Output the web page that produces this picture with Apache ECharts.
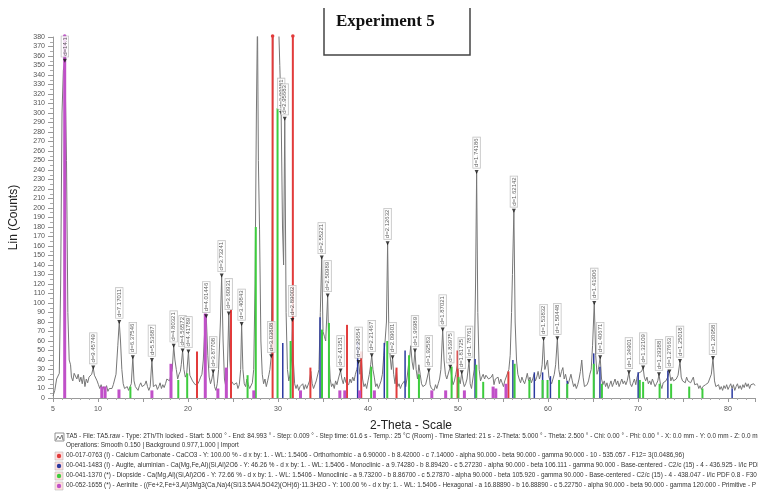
<!DOCTYPE html>
<html>
<head>
<meta charset="utf-8">
<script src="https://cdn.jsdelivr.net/npm/echarts@6/dist/echarts.min.js"></script>
<style>
  html, body { margin: 0; padding: 0; background: #fff; }
  #chart { width: 758px; height: 495px; }
</style>
</head>
<body>
<div id="chart"></div>
<script>
// measured pattern (2-theta, counts)
var pattern = [
  [5.0, 2], [5.2, 8], [5.4, 20], [5.55, 22], [5.7, 26], [5.85, 120], [6.0, 300], [6.15, 345], [6.32, 355], [6.5, 250],
  [6.65, 90], [6.8, 40], [6.95, 35], [7.05, 22], [7.2, 18], [7.35, 26], [7.5, 24], [7.65, 20], [7.8, 25], [7.95, 17],
  [8.1, 22], [8.25, 15], [8.4, 24], [8.55, 12], [8.7, 20], [8.85, 16], [9.0, 22], [9.15, 20], [9.3, 25], [9.47, 32],
  [9.6, 24], [9.75, 26], [9.9, 18], [10.05, 14], [10.2, 10], [10.35, 14], [10.5, 8], [10.65, 12], [10.8, 9], [10.95, 13],
  [11.1, 7], [11.25, 10], [11.4, 8], [11.55, 10], [11.7, 14], [11.85, 16], [12.0, 25], [12.2, 55], [12.36, 80], [12.5, 60],
  [12.65, 30], [12.8, 15], [12.95, 10], [13.1, 8], [13.25, 12], [13.4, 8], [13.55, 10], [13.7, 15], [13.87, 43], [14.0, 18],
  [14.15, 12], [14.3, 14], [14.45, 8], [14.6, 13], [14.75, 16], [14.9, 12], [15.05, 10], [15.2, 14], [15.35, 18], [15.5, 12],
  [15.65, 8], [15.8, 12], [15.99, 40], [16.15, 12], [16.3, 10], [16.45, 14], [16.6, 9], [16.75, 12], [16.9, 16], [17.05, 10],
  [17.2, 14], [17.35, 11], [17.5, 15], [17.65, 20], [17.8, 22], [17.95, 18], [18.1, 24], [18.25, 30], [18.41, 55], [18.55, 40],
  [18.7, 30], [18.85, 20], [19.0, 25], [19.15, 28], [19.25, 35], [19.4, 50], [19.55, 30], [19.7, 22], [19.85, 25], [20.05, 49],
  [20.2, 24], [20.35, 22], [20.5, 18], [20.65, 20], [20.8, 14], [20.95, 12], [21.1, 15], [21.25, 18], [21.4, 22], [21.55, 25],
  [21.7, 40], [21.85, 70], [22.03, 86], [22.2, 45], [22.35, 22], [22.5, 15], [22.65, 20], [22.8, 28], [22.95, 12], [23.1, 8],
  [23.25, 15], [23.4, 30], [23.6, 80], [23.74, 129], [23.9, 60], [24.05, 20], [24.2, 12], [24.35, 20], [24.53, 89], [24.65, 40],
  [24.8, 18], [24.95, 16], [25.1, 14], [25.25, 12], [25.4, 16], [25.55, 10], [25.7, 14], [25.85, 30], [25.96, 78], [26.1, 30],
  [26.25, 15], [26.4, 12], [26.55, 20], [26.7, 14], [26.85, 10], [27.0, 12], [27.15, 16], [27.3, 30], [27.45, 120], [27.6, 300],
  [27.72, 400], [27.82, 250], [27.95, 177], [28.1, 60], [28.25, 25], [28.4, 15], [28.55, 20], [28.7, 12], [28.85, 18], [29.0, 25],
  [29.1, 30], [29.25, 44], [29.35, 150], [29.45, 420], [29.6, 430], [29.75, 420], [29.9, 410], [30.05, 400], [30.2, 350], [30.35, 300],
  [30.5, 180], [30.62, 140], [30.75, 294], [30.9, 90], [31.05, 30], [31.2, 18], [31.35, 25], [31.5, 40], [31.59, 82], [31.7, 40],
  [31.85, 15], [32.0, 10], [32.15, 14], [32.3, 8], [32.45, 12], [32.6, 10], [32.75, 15], [32.9, 9], [33.05, 14], [33.2, 10],
  [33.35, 12], [33.5, 18], [33.65, 28], [33.8, 15], [33.95, 10], [34.1, 14], [34.25, 18], [34.4, 20], [34.55, 30], [34.7, 90],
  [34.86, 148], [35.0, 70], [35.15, 65], [35.3, 60], [35.52, 108], [35.65, 50], [35.8, 20], [35.95, 12], [36.1, 15], [36.25, 10],
  [36.4, 18], [36.55, 14], [36.7, 20], [36.8, 22], [36.95, 29], [37.1, 20], [37.25, 15], [37.4, 22], [37.55, 16], [37.7, 18],
  [37.85, 14], [38.0, 20], [38.15, 16], [38.3, 22], [38.45, 18], [38.6, 25], [38.75, 30], [38.96, 38], [39.1, 25], [39.25, 45],
  [39.4, 20], [39.55, 12], [39.7, 15], [39.85, 10], [40.0, 18], [40.15, 25], [40.3, 35], [40.42, 45], [40.55, 30], [40.7, 22],
  [40.85, 12], [41.0, 15], [41.15, 10], [41.3, 14], [41.45, 18], [41.6, 25], [41.75, 45], [41.9, 60], [42.05, 80], [42.18, 163],
  [42.3, 80], [42.45, 45], [42.6, 30], [42.73, 43], [42.85, 25], [43.0, 15], [43.15, 30], [43.3, 12], [43.45, 15], [43.6, 10],
  [43.75, 14], [43.9, 12], [44.05, 18], [44.2, 12], [44.35, 22], [44.5, 35], [44.6, 40], [44.75, 55], [44.9, 38], [45.05, 30],
  [45.22, 50], [45.35, 30], [45.5, 20], [45.65, 35], [45.8, 25], [45.95, 15], [46.1, 12], [46.25, 10], [46.4, 14], [46.55, 20],
  [46.76, 29], [46.9, 14], [47.05, 10], [47.2, 12], [47.35, 8], [47.5, 14], [47.65, 10], [47.8, 15], [47.95, 20], [48.1, 30],
  [48.3, 72], [48.45, 40], [48.6, 25], [48.75, 20], [48.9, 22], [49.14, 33], [49.3, 22], [49.45, 14], [49.6, 18], [49.75, 25],
  [49.95, 35], [50.1, 20], [50.25, 15], [50.42, 27], [50.55, 18], [50.7, 12], [50.85, 15], [51.0, 20], [51.23, 39], [51.35, 15],
  [51.5, 10], [51.65, 12], [51.8, 30], [51.95, 120], [52.07, 238], [52.2, 90], [52.35, 30], [52.5, 18], [52.65, 22], [52.8, 25],
  [52.95, 20], [53.1, 24], [53.25, 26], [53.4, 20], [53.55, 18], [53.7, 22], [53.85, 25], [54.0, 14], [54.15, 20], [54.3, 18],
  [54.45, 22], [54.6, 15], [54.75, 20], [54.9, 16], [55.05, 12], [55.2, 18], [55.35, 22], [55.5, 20], [55.65, 30], [55.8, 45],
  [55.95, 90], [56.05, 130], [56.21, 197], [56.35, 80], [56.5, 40], [56.65, 25], [56.8, 20], [56.95, 16], [57.1, 22], [57.25, 18],
  [57.4, 15], [57.55, 20], [57.7, 26], [57.85, 18], [58.0, 22], [58.15, 16], [58.3, 20], [58.45, 25], [58.6, 18], [58.75, 22],
  [58.9, 28], [59.05, 20], [59.2, 25], [59.35, 35], [59.51, 62], [59.65, 30], [59.8, 28], [59.95, 40], [60.1, 22], [60.25, 18],
  [60.4, 15], [60.55, 20], [60.7, 25], [60.85, 35], [61.04, 63], [61.2, 30], [61.35, 22], [61.5, 28], [61.65, 32], [61.8, 20],
  [61.95, 25], [62.1, 18], [62.25, 15], [62.4, 20], [62.55, 25], [62.7, 18], [62.85, 12], [63.0, 15], [63.15, 10], [63.3, 14],
  [63.45, 20], [63.6, 28], [63.75, 40], [63.9, 22], [64.05, 12], [64.2, 10], [64.35, 14], [64.5, 18], [64.65, 25], [64.8, 30],
  [64.95, 55], [65.14, 100], [65.3, 45], [65.45, 25], [65.6, 30], [65.8, 43], [65.95, 20], [66.1, 14], [66.25, 18], [66.4, 12],
  [66.55, 16], [66.7, 10], [66.85, 14], [67.0, 18], [67.15, 12], [67.3, 16], [67.45, 20], [67.6, 14], [67.75, 18], [67.9, 12],
  [68.05, 16], [68.2, 20], [68.35, 15], [68.5, 18], [68.65, 14], [68.8, 18], [68.99, 27], [69.15, 15], [69.3, 12], [69.45, 16],
  [69.6, 20], [69.75, 14], [69.9, 22], [70.05, 26], [70.2, 24], [70.4, 28], [70.57, 32], [70.7, 22], [70.85, 18], [71.0, 22],
  [71.15, 15], [71.3, 18], [71.45, 14], [71.6, 20], [71.75, 16], [71.9, 12], [72.05, 15], [72.2, 18], [72.33, 25], [72.5, 14],
  [72.65, 10], [72.8, 16], [72.95, 14], [73.1, 18], [73.3, 22], [73.49, 28], [73.65, 18], [73.8, 22], [73.95, 18], [74.1, 16],
  [74.25, 20], [74.45, 24], [74.67, 39], [74.8, 22], [74.95, 18], [75.1, 20], [75.25, 16], [75.4, 22], [75.55, 18], [75.7, 20],
  [75.85, 16], [76.0, 18], [76.15, 22], [76.3, 14], [76.45, 12], [76.6, 15], [76.75, 10], [76.9, 13], [77.05, 9], [77.2, 12],
  [77.35, 10], [77.5, 14], [77.65, 12], [77.8, 16], [77.95, 20], [78.15, 25], [78.33, 42], [78.5, 18], [78.65, 12], [78.8, 10],
  [78.95, 14], [79.1, 9], [79.25, 12], [79.4, 8], [79.55, 13], [79.7, 10], [79.85, 14], [80.0, 9], [80.15, 12], [80.3, 15],
  [80.45, 10], [80.6, 14], [80.75, 8], [80.9, 12], [81.05, 15], [81.2, 10], [81.35, 13], [81.5, 9], [81.65, 14], [81.8, 11],
  [81.95, 16], [82.1, 12], [82.25, 15], [82.4, 10], [82.55, 14], [82.7, 12], [82.85, 15], [83.0, 13]
];

// labelled peaks
var peakTheta = [6.32, 9.47, 12.36, 13.87, 15.99, 18.41, 19.40, 20.05, 22.03, 22.80, 23.74, 24.53, 25.96, 29.25,
  30.35, 30.75, 31.59, 34.86, 35.52, 36.95, 38.96, 40.42, 42.18, 42.73, 45.22, 46.76, 48.30, 49.14, 50.42, 51.23,
  52.07, 56.21, 59.51, 61.04, 65.14, 65.80, 68.99, 70.57, 72.33, 73.49, 74.67, 78.33];
var peakCounts = [355, 32, 80, 43, 40, 55, 50, 49, 86, 28, 129, 89, 78, 44,
  300, 294, 82, 148, 108, 29, 38, 45, 163, 43, 50, 29, 72, 33, 27, 39,
  238, 197, 62, 63, 100, 43, 27, 32, 25, 28, 39, 42];
var peakLabels = ['d=14.1', 'd=9.45749', 'd=7.17011', 'd=6.37546', 'd=5.53687', 'd=4.80321', 'd=4.56572', 'd=4.41789',
  'd=4.01446', 'd=3.87708', 'd=3.73241', 'd=3.60931', 'd=3.40843', 'd=3.03808', 'd=2.99181', 'd=2.95683', 'd=2.89002',
  'd=2.55221', 'd=2.50989', 'd=2.41351', 'd=2.29654', 'd=2.21467', 'd=2.12632', 'd=2.09601', 'd=1.96989', 'd=1.92583',
  'd=1.87021', 'd=1.83975', 'd=1.81725', 'd=1.78761', 'd=1.74186', 'd=1.62142', 'd=1.53832', 'd=1.50448', 'd=1.41906',
  'd=1.40671', 'd=1.34901', 'd=1.32109', 'd=1.29388', 'd=1.27663', 'd=1.25018', 'd=1.20958'];

// reference sticks per phase
var calciteSticks = [[21.0, 49], [24.78, 93], [29.4, 400], [31.65, 400], [33.6, 32], [37.67, 77], [39.25, 49],
  [43.17, 32], [49.95, 50], [55.6, 28]];
var augiteSticks = [[30.53, 58], [34.67, 85], [38.85, 59], [41.81, 58], [44.12, 50], [51.9, 41], [56.1, 40],
  [58.48, 27], [59.4, 27], [60.27, 23], [62.14, 18], [65.08, 47], [65.77, 33], [70.02, 27], [73.32, 29], [80.46, 10]];
var diopsideSticks = [[13.6, 12], [18.92, 19], [19.91, 26], [26.62, 24], [27.53, 180], [29.95, 305], [31.4, 60],
  [34.89, 72], [35.66, 79], [40.35, 33], [42.14, 60], [44.56, 45], [45.66, 25], [49.29, 33], [50.05, 22], [52.03, 35],
  [52.8, 17], [56.29, 36], [57.93, 19], [59.4, 19], [59.95, 19], [61.23, 19], [62.14, 15], [65.08, 36], [65.99, 15],
  [70.2, 19], [70.57, 17], [72.4, 15], [73.68, 15], [75.69, 12], [77.16, 10]];
var aeriniteSticks = [[6.3, 400], [10.42, 12], [10.79, 12], [12.33, 9], [15.99, 8], [18.11, 36], [21.92, 89],
  [23.32, 10], [24.26, 32], [27.31, 8], [32.5, 8], [36.87, 8], [37.42, 8], [39.07, 8], [40.71, 8], [47.09, 8],
  [48.63, 8], [50.71, 8], [53.9, 12], [54.2, 10], [55.33, 15]];

var yMax = 380;

var legendLines = [
  'TA5 - File: TA5.raw - Type: 2Th/Th locked - Start: 5.000 ° - End: 84.993 ° - Step: 0.009 ° - Step time: 61.6 s - Temp.: 25 °C (Room) - Time Started: 21 s - 2-Theta: 5.000 ° - Theta: 2.500 ° - Chi: 0.00 ° - Phi: 0.00 ° - X: 0.0 mm - Y: 0.0 mm - Z: 0.0 mm',
  'Operations: Smooth 0.150 | Background 0.977,1.000 | Import',
  '00-017-0763 (I) - Calcium Carbonate - CaCO3 - Y: 100.00 % - d x by: 1. - WL: 1.5406 - Orthorhombic - a 6.90000 - b 8.42000 - c 7.14000 - alpha 90.000 - beta 90.000 - gamma 90.000 - 10 - 535.057 - F12= 3(0.0486,96)',
  '00-041-1483 (I) - Augite, aluminian - Ca(Mg,Fe,Al)(Si,Al)2O6 - Y: 46.26 % - d x by: 1. - WL: 1.5406 - Monoclinic - a 9.74280 - b 8.89420 - c 5.27230 - alpha 90.000 - beta 106.111 - gamma 90.000 - Base-centered - C2/c (15) - 4 - 436.925 - I/Ic PDF',
  '00-041-1370 (*) - Diopside - Ca(Mg,Al)(Si,Al)2O6 - Y: 72.66 % - d x by: 1. - WL: 1.5406 - Monoclinic - a 9.73200 - b 8.86700 - c 5.27870 - alpha 90.000 - beta 105.920 - gamma 90.000 - Base-centered - C2/c (15) - 4 - 438.047 - I/Ic PDF 0.8 - F30',
  '00-052-1655 (*) - Aerinite - ((Fe+2,Fe+3,Al)3Mg3(Ca,Na)4(Si13.5Al4.5O42)(OH)6)·11.3H2O - Y: 100.00 % - d x by: 1. - WL: 1.5406 - Hexagonal - a 16.88890 - b 16.88890 - c 5.22750 - alpha 90.000 - beta 90.000 - gamma 120.000 - Primitive - P'
];
var legendColors = [null, null, '#e23b3b', '#2b3aa0', '#3dcc3d', '#c050c8'];
var legendY = [437, 446, 456, 466, 476, 486];

function stickSeries(name, data, color, width) {
  return {
    name: name,
    type: 'custom',
    data: data,
    z: 3,
    encode: { x: 0, y: 1 },
    renderItem: function (params, api) {
      var x = api.value(0);
      var h = api.value(1);
      var p0 = api.coord([x, 0]);
      var p1 = api.coord([x, Math.min(h, yMax)]);
      var children = [{
        type: 'line',
        shape: { x1: p0[0], y1: p0[1], x2: p1[0], y2: p1[1] },
        style: { stroke: color, lineWidth: width }
      }];
      if (h > yMax) {
        children.push({
          type: 'circle',
          shape: { cx: p1[0], cy: p1[1] - 1, r: 1.8 },
          style: { fill: color }
        });
      }
      return { type: 'group', children: children };
    }
  };
}

var peaks = [];
for (var i = 0; i < peakTheta.length; i++) {
  peaks.push({ value: [peakTheta[i], peakCounts[i]], name: peakLabels[i] });
}

var graphics = [
  {
    type: 'polyline',
    shape: { points: [[324, 8], [324, 55], [470, 55], [470, 8]] },
    style: { stroke: '#444', lineWidth: 1.5, fill: null }
  },
  {
    type: 'text',
    left: 336, top: 13,
    style: { text: 'Experiment 5', font: 'bold 17px "Liberation Serif", "Times New Roman", serif', fill: '#111' }
  }
];
for (var j = 0; j < legendLines.length; j++) {
  graphics.push({
    type: 'text', left: 66, top: legendY[j] - 4,
    style: { text: legendLines[j], font: '6.4px "Liberation Sans", Arial, sans-serif', fill: '#333' }
  });
  if (legendColors[j]) {
    graphics.push({
      type: 'rect', shape: { x: 55, y: legendY[j] - 4, width: 8, height: 8 },
      style: { fill: '#fdd', stroke: '#bbb', lineWidth: 0.6 }
    });
    graphics.push({
      type: 'circle', shape: { cx: 59, cy: legendY[j], r: 2.2 },
      style: { fill: legendColors[j] }
    });
  }
}
// chart glyph in front of the scan line
graphics.push({
  type: 'rect', shape: { x: 55, y: 433, width: 9, height: 8 },
  style: { fill: '#fff', stroke: '#666', lineWidth: 0.7 }
});
graphics.push({
  type: 'polyline', shape: { points: [[56, 440], [58, 436], [60, 439], [62, 435], [63, 440]] },
  style: { stroke: '#444', lineWidth: 0.7, fill: null }
});

var chart = echarts.init(document.getElementById('chart'));
chart.setOption({
  backgroundColor: '#fff',
  animation: false,
  textStyle: { fontFamily: '"Liberation Sans", Arial, sans-serif' },
  grid: { left: 50, right: 0, top: 37, bottom: 97 },
  xAxis: {
    type: 'value',
    min: 5,
    max: 83,
    interval: 5,
    name: '2-Theta - Scale',
    nameLocation: 'middle',
    nameGap: 22,
    nameTextStyle: { fontSize: 12, color: '#222', padding: [0, 0, 0, 14] },
    axisLine: { lineStyle: { color: '#999' } },
    axisTick: { length: 4, lineStyle: { color: '#999' } },
    minorTick: { show: true, splitNumber: 5, length: 2, lineStyle: { color: '#aaa' } },
    axisLabel: {
      fontSize: 7, color: '#555', margin: 8,
      formatter: function (v) { return (v === 5 || v % 10 === 0) ? String(v) : ''; }
    },
    splitLine: { show: false }
  },
  yAxis: {
    type: 'value',
    min: 0,
    max: yMax,
    interval: 10,
    name: 'Lin (Counts)',
    nameLocation: 'middle',
    nameGap: 33,
    nameTextStyle: { fontSize: 12, color: '#222' },
    axisLine: { show: true, lineStyle: { color: '#999' } },
    axisTick: { show: true, length: 5, lineStyle: { color: '#999' } },
    minorTick: { show: true, splitNumber: 2, length: 3, lineStyle: { color: '#aaa' } },
    axisLabel: { fontSize: 7, color: '#555', margin: 8 },
    splitLine: { show: false }
  },
  series: [
    {
      name: 'TA5',
      type: 'line',
      data: pattern,
      showSymbol: false,
      z: 2,
      lineStyle: { color: '#777', width: 1 }
    },
    stickSeries('Calcium Carbonate', calciteSticks, '#e23b3b', 2),
    stickSeries('Augite, aluminian', augiteSticks, '#2b3aa0', 1.5),
    stickSeries('Diopside', diopsideSticks, '#3dcc3d', 2),
    stickSeries('Aerinite', aeriniteSticks, '#c050c8', 3),
    {
      name: 'peaks',
      type: 'scatter',
      data: peaks,
      z: 6,
      symbol: 'triangle',
      symbolRotate: 180,
      symbolSize: 4,
      itemStyle: { color: '#111' },
      label: {
        show: true,
        position: 'top',
        distance: 2,
        rotate: 90,
        align: 'left',
        verticalAlign: 'middle',
        formatter: '{b}',
        fontSize: 6,
        color: '#333',
        backgroundColor: '#fff',
        borderColor: '#aaa',
        borderWidth: 0.6,
        padding: [1, 1, 0, 1]
      }
    }
  ],
  graphic: graphics
});
</script>
</body>
</html>
